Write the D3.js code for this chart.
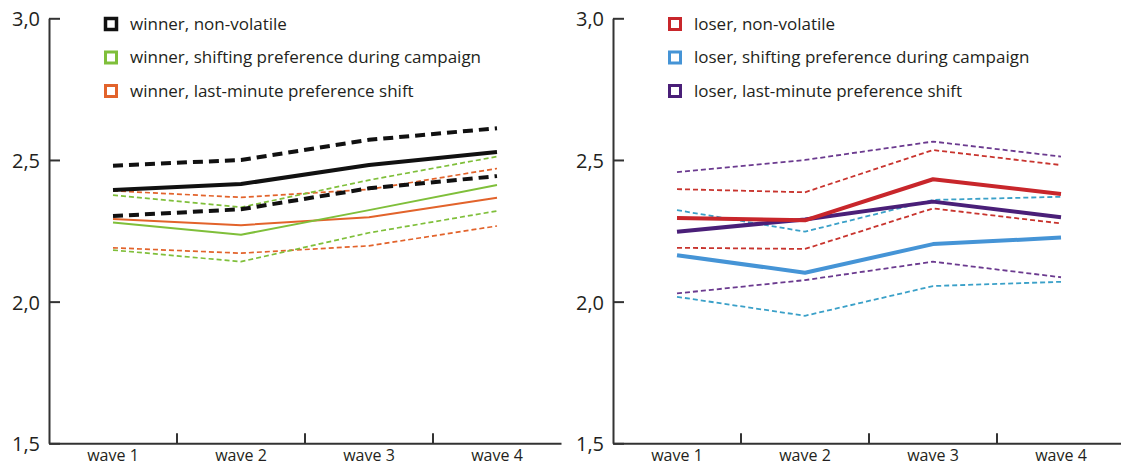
<!DOCTYPE html>
<html>
<head>
<meta charset="utf-8">
<script src="https://d3js.org/d3.v7.min.js"></script>
<style>
  body { margin: 0; background: #fff; }
  text { font-family: "Open Sans", sans-serif; fill: #231f20; }
</style>
</head>
<body>
<div id="chart"></div>
<script>
const waves = ["wave 1", "wave 2", "wave 3", "wave 4"]
const yTicks = [1.5, 2.0, 2.5, 3.0]

// winner panel
const winnerNonVolatile   = [2.394, 2.415, 2.482, 2.528]
const winnerNonVolatileHi = [2.480, 2.500, 2.571, 2.612]
const winnerNonVolatileLo = [2.302, 2.326, 2.400, 2.443]
const winnerShifting      = [2.279, 2.236, 2.323, 2.412]
const winnerShiftingHi    = [2.376, 2.333, 2.429, 2.512]
const winnerShiftingLo    = [2.182, 2.141, 2.243, 2.320]
const winnerLastMinute    = [2.292, 2.270, 2.298, 2.367]
const winnerLastMinuteHi  = [2.391, 2.368, 2.396, 2.470]
const winnerLastMinuteLo  = [2.190, 2.171, 2.197, 2.267]

// loser panel
const loserNonVolatile   = [2.295, 2.287, 2.432, 2.380]
const loserNonVolatileHi = [2.397, 2.386, 2.535, 2.482]
const loserNonVolatileLo = [2.190, 2.186, 2.329, 2.276]
const loserShifting      = [2.164, 2.102, 2.203, 2.226]
const loserShiftingHi    = [2.323, 2.247, 2.359, 2.370]
const loserShiftingLo    = [2.017, 1.950, 2.055, 2.070]
const loserLastMinute    = [2.247, 2.290, 2.353, 2.298]
const loserLastMinuteHi  = [2.457, 2.500, 2.565, 2.512]
const loserLastMinuteLo  = [2.029, 2.076, 2.141, 2.086]

const width = 1121
const height = 467

const svg = d3.select("#chart").append("svg")
    .attr("width", width)
    .attr("height", height)

const yScale = d3.scaleLinear()
    .domain([1.5, 3.0])
    .range([443.3, 18.3])

const panels = [
    {
        left: 49,
        groups: [
            { name: "winner, last-minute preference shift", color: "#e2632b", dashColor: "#e2632b", mid: winnerLastMinute, hi: winnerLastMinuteHi, lo: winnerLastMinuteLo, w: 2, dw: 1.7, dash: "5,3", legendW: 3 },
            { name: "winner, shifting preference during campaign", color: "#7fbf3a", dashColor: "#7fbf3a", mid: winnerShifting, hi: winnerShiftingHi, lo: winnerShiftingLo, w: 2, dw: 1.7, dash: "5,3", legendW: 3 },
            { name: "winner, non-volatile", color: "#111", dashColor: "#111", mid: winnerNonVolatile, hi: winnerNonVolatileHi, lo: winnerNonVolatileLo, w: 4, dw: 4, dash: "10,6", legendW: 3.5 }
        ],
        legendOrder: [2, 1, 0]
    },
    {
        left: 613,
        groups: [
            { name: "loser, last-minute preference shift", color: "#4a1f78", dashColor: "#6b3a8f", mid: loserLastMinute, hi: loserLastMinuteHi, lo: loserLastMinuteLo, w: 4, dw: 1.8, dash: "5,3", legendW: 3 },
            { name: "loser, shifting preference during campaign", color: "#4594d6", dashColor: "#3aa0c8", mid: loserShifting, hi: loserShiftingHi, lo: loserShiftingLo, w: 4, dw: 1.8, dash: "5,3", legendW: 3 },
            { name: "loser, non-volatile", color: "#c8262b", dashColor: "#c8342e", mid: loserNonVolatile, hi: loserNonVolatileHi, lo: loserNonVolatileLo, w: 4, dw: 1.8, dash: "5,3", legendW: 3 }
        ],
        legendOrder: [2, 1, 0]
    }
]

const drawPanel = (p) => {
    const g = svg.append("g")

    const xScale = d3.scaleBand()
        .domain(waves)
        .range([p.left, p.left + 512])

    const line = d3.line()
        .x((d, i) => xScale(waves[i]) + xScale.bandwidth() / 2)
        .y(d => yScale(d))

    // dashed bounds first
    p.groups.forEach(s => {
        [s.hi, s.lo].forEach(vals => {
            g.append("path")
                .datum(vals)
                .attr("d", line)
                .attr("fill", "none")
                .attr("stroke", s.dashColor)
                .attr("stroke-width", s.dw)
                .attr("stroke-dasharray", s.dash)
        })
    })
    p.groups.forEach(s => {
        g.append("path")
            .datum(s.mid)
            .attr("d", line)
            .attr("fill", "none")
            .attr("stroke", s.color)
            .attr("stroke-width", s.w)
            .attr("stroke-linejoin", "round")
    })

    // y axis
    const yAxis = d3.axisLeft(yScale)
        .tickValues(yTicks)
        .tickFormat(d => d.toFixed(1).replace(".", ","))
        .tickSizeInner(-11)
        .tickSizeOuter(0)
        .tickPadding(9)
    const ya = g.append("g")
        .attr("transform", "translate(" + p.left + ",0)")
        .call(yAxis)
    ya.select(".domain").attr("stroke", "#333").attr("stroke-width", 2)
    ya.selectAll(".tick line").attr("stroke", "#333").attr("stroke-width", 2)
    ya.selectAll(".tick text")
        .attr("font-size", 20)
        .attr("font-family", "Open Sans, sans-serif")
        .attr("fill", "#231f20")
        .attr("dy", "0.38em")

    // x axis
    const xAxis = d3.axisBottom(xScale)
        .tickSize(0)
        .tickPadding(0)
    const xa = g.append("g")
        .attr("transform", "translate(0," + yScale(1.5) + ")")
        .call(xAxis)
    xa.select(".domain").attr("stroke", "#333").attr("stroke-width", 2)
    xa.selectAll(".tick text")
        .attr("font-size", 16)
        .attr("font-family", "Open Sans, sans-serif")
        .attr("fill", "#231f20")
        .attr("y", 18)
        .attr("dy", "0")

    // separators between waves
    g.selectAll(".sep")
        .data(waves.slice(1))
        .enter()
        .append("line")
        .attr("x1", d => xScale(d))
        .attr("x2", d => xScale(d))
        .attr("y1", yScale(1.5))
        .attr("y2", yScale(1.5) - 10)
        .attr("stroke", "#333")
        .attr("stroke-width", 2)

    // legend
    const rows = [24, 57.5, 91]
    p.legendOrder.forEach((gi, r) => {
        const s = p.groups[gi]
        g.append("rect")
            .attr("x", p.left + 56.5)
            .attr("y", rows[r] - 5.5)
            .attr("width", 11)
            .attr("height", 11)
            .attr("fill", "#fff")
            .attr("stroke", s.color)
            .attr("stroke-width", s.legendW)
        g.append("text")
            .attr("x", p.left + 81)
            .attr("y", rows[r])
            .attr("dy", "0.33em")
            .attr("font-size", 17)
            .text(s.name)
    })
}

panels.forEach(drawPanel)
</script>
</body>
</html>
